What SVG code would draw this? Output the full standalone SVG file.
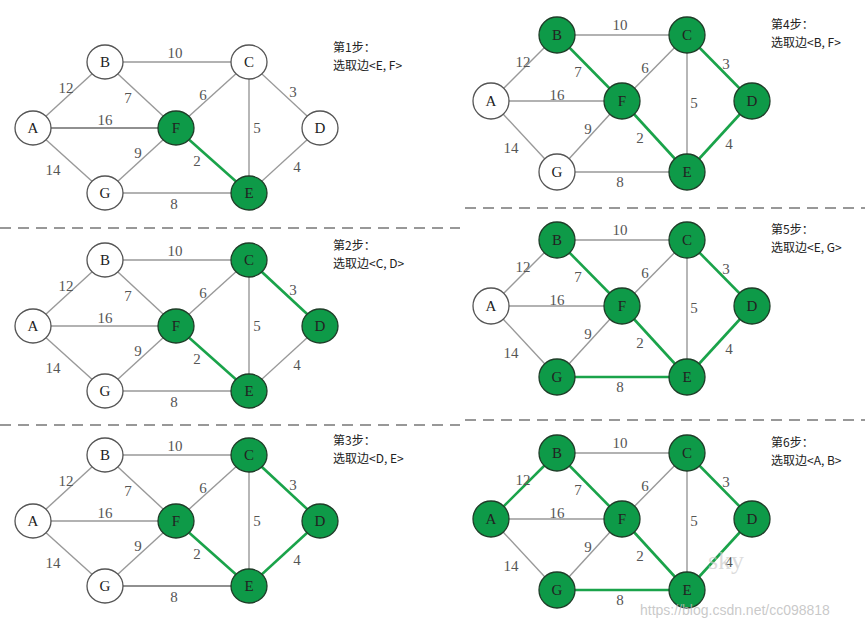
<svg xmlns="http://www.w3.org/2000/svg" xmlns:xlink="http://www.w3.org/1999/xlink" width="865" height="631" viewBox="0 0 865 631">
<style>
.e{stroke:#999;stroke-width:1.4}
.g{stroke:#1aa34a;stroke-width:2.6}
.k{stroke:#222;stroke-width:1.2}
.n ellipse{fill:#fff;stroke:#555;stroke-width:1.3}
.n.on ellipse{fill:#0e9a48;stroke:#1f3d28}
.n text{font-family:"Liberation Serif",serif;font-size:15px;text-anchor:middle;fill:#222}
.w{font-family:"Liberation Serif",serif;font-size:15px;fill:#555;text-anchor:middle}
.s{font-family:"Noto Sans CJK SC","Liberation Serif",sans-serif;font-size:12px;fill:#222}
.d{stroke:#777;stroke-width:1.5;stroke-dasharray:11 7}
</style>
<rect width="865" height="631" fill="#fff"/>
<g id="separators">
<line class="d" x1="0" y1="228" x2="460" y2="228"/>
<line class="d" x1="0" y1="425" x2="460" y2="425"/>
<line class="d" x1="465" y1="208" x2="865" y2="208"/>
<line class="d" x1="465" y1="420" x2="865" y2="420"/>
</g>
<!-- Panel 1 -->
<g id="p1" transform="translate(0,0)">
<g id="p1-edges">
<line class="e" x1="33" y1="128" x2="105" y2="62"/><line class="e" x1="105" y1="62" x2="249" y2="62"/><line class="e" x1="105" y1="62" x2="176" y2="128"/><line class="k" x1="33" y1="128" x2="176" y2="128"/><line class="e" x1="33" y1="128" x2="105" y2="193"/><line class="e" x1="105" y1="193" x2="176" y2="128"/><line class="e" x1="176" y1="128" x2="249" y2="62"/><line class="e" x1="249" y1="62" x2="249" y2="193"/><line class="e" x1="249" y1="62" x2="320" y2="128"/><line class="g" x1="176" y1="128" x2="249" y2="193"/><line class="e" x1="320" y1="128" x2="249" y2="193"/><line class="e" x1="105" y1="193" x2="249" y2="193"/>
<text class="w" x="175" y="58">10</text><text class="w" x="66" y="93">12</text><text class="w" x="128" y="103">7</text><text class="w" x="203" y="100">6</text><text class="w" x="293" y="97">3</text><text class="w" x="105" y="125">16</text><text class="w" x="257" y="133">5</text><text class="w" x="138" y="158">9</text><text class="w" x="197" y="166">2</text><text class="w" x="297" y="172">4</text><text class="w" x="53" y="175">14</text><text class="w" x="174" y="209">8</text>
</g>
<g id="p1-A" class="n"><ellipse cx="33" cy="128" rx="18" ry="17"/><text x="33" y="133">A</text></g>
<g id="p1-B" class="n"><ellipse cx="105" cy="62" rx="18" ry="17"/><text x="105" y="67">B</text></g>
<g id="p1-C" class="n"><ellipse cx="249" cy="62" rx="18" ry="17"/><text x="249" y="67">C</text></g>
<g id="p1-D" class="n"><ellipse cx="320" cy="128" rx="18" ry="17"/><text x="320" y="133">D</text></g>
<g id="p1-F" class="n on"><ellipse cx="176" cy="128" rx="18" ry="17"/><text x="176" y="133">F</text></g>
<g id="p1-E" class="n on"><ellipse cx="249" cy="193" rx="18" ry="17"/><text x="249" y="198">E</text></g>
<g id="p1-G" class="n"><ellipse cx="105" cy="193" rx="18" ry="17"/><text x="105" y="198">G</text></g>
<text class="s" x="333" y="52">第1步：</text><text class="s" x="333" y="70">选取边&lt;E, F&gt;</text>
</g>
<!-- Panel 2 -->
<g id="p2" transform="translate(0,198)">
<g id="p2-edges">
<line class="e" x1="33" y1="128" x2="105" y2="62"/><line class="e" x1="105" y1="62" x2="249" y2="62"/><line class="e" x1="105" y1="62" x2="176" y2="128"/><line class="e" x1="33" y1="128" x2="176" y2="128"/><line class="e" x1="33" y1="128" x2="105" y2="193"/><line class="e" x1="105" y1="193" x2="176" y2="128"/><line class="e" x1="176" y1="128" x2="249" y2="62"/><line class="e" x1="249" y1="62" x2="249" y2="193"/><line class="g" x1="249" y1="62" x2="320" y2="128"/><line class="g" x1="176" y1="128" x2="249" y2="193"/><line class="e" x1="320" y1="128" x2="249" y2="193"/><line class="e" x1="105" y1="193" x2="249" y2="193"/>
<text class="w" x="175" y="58">10</text><text class="w" x="66" y="93">12</text><text class="w" x="128" y="103">7</text><text class="w" x="203" y="100">6</text><text class="w" x="293" y="97">3</text><text class="w" x="105" y="125">16</text><text class="w" x="257" y="133">5</text><text class="w" x="138" y="158">9</text><text class="w" x="197" y="166">2</text><text class="w" x="297" y="172">4</text><text class="w" x="53" y="175">14</text><text class="w" x="174" y="209">8</text>
</g>
<g id="p2-A" class="n"><ellipse cx="33" cy="128" rx="18" ry="17"/><text x="33" y="133">A</text></g>
<g id="p2-B" class="n"><ellipse cx="105" cy="62" rx="18" ry="17"/><text x="105" y="67">B</text></g>
<g id="p2-C" class="n on"><ellipse cx="249" cy="62" rx="18" ry="17"/><text x="249" y="67">C</text></g>
<g id="p2-D" class="n on"><ellipse cx="320" cy="128" rx="18" ry="17"/><text x="320" y="133">D</text></g>
<g id="p2-F" class="n on"><ellipse cx="176" cy="128" rx="18" ry="17"/><text x="176" y="133">F</text></g>
<g id="p2-E" class="n on"><ellipse cx="249" cy="193" rx="18" ry="17"/><text x="249" y="198">E</text></g>
<g id="p2-G" class="n"><ellipse cx="105" cy="193" rx="18" ry="17"/><text x="105" y="198">G</text></g>
<text class="s" x="333" y="52">第2步：</text><text class="s" x="333" y="70">选取边&lt;C, D&gt;</text>
</g>
<!-- Panel 3 -->
<g id="p3" transform="translate(0,393)">
<g id="p3-edges">
<line class="e" x1="33" y1="128" x2="105" y2="62"/><line class="e" x1="105" y1="62" x2="249" y2="62"/><line class="e" x1="105" y1="62" x2="176" y2="128"/><line class="e" x1="33" y1="128" x2="176" y2="128"/><line class="e" x1="33" y1="128" x2="105" y2="193"/><line class="e" x1="105" y1="193" x2="176" y2="128"/><line class="e" x1="176" y1="128" x2="249" y2="62"/><line class="e" x1="249" y1="62" x2="249" y2="193"/><line class="g" x1="249" y1="62" x2="320" y2="128"/><line class="g" x1="176" y1="128" x2="249" y2="193"/><line class="g" x1="320" y1="128" x2="249" y2="193"/><line class="k" x1="105" y1="193" x2="249" y2="193"/>
<text class="w" x="175" y="58">10</text><text class="w" x="66" y="93">12</text><text class="w" x="128" y="103">7</text><text class="w" x="203" y="100">6</text><text class="w" x="293" y="97">3</text><text class="w" x="105" y="125">16</text><text class="w" x="257" y="133">5</text><text class="w" x="138" y="158">9</text><text class="w" x="197" y="166">2</text><text class="w" x="297" y="172">4</text><text class="w" x="53" y="175">14</text><text class="w" x="174" y="209">8</text>
</g>
<g id="p3-A" class="n"><ellipse cx="33" cy="128" rx="18" ry="17"/><text x="33" y="133">A</text></g>
<g id="p3-B" class="n"><ellipse cx="105" cy="62" rx="18" ry="17"/><text x="105" y="67">B</text></g>
<g id="p3-C" class="n on"><ellipse cx="249" cy="62" rx="18" ry="17"/><text x="249" y="67">C</text></g>
<g id="p3-D" class="n on"><ellipse cx="320" cy="128" rx="18" ry="17"/><text x="320" y="133">D</text></g>
<g id="p3-F" class="n on"><ellipse cx="176" cy="128" rx="18" ry="17"/><text x="176" y="133">F</text></g>
<g id="p3-E" class="n on"><ellipse cx="249" cy="193" rx="18" ry="17"/><text x="249" y="198">E</text></g>
<g id="p3-G" class="n"><ellipse cx="105" cy="193" rx="18" ry="17"/><text x="105" y="198">G</text></g>
<text class="s" x="333" y="52">第3步：</text><text class="s" x="333" y="70">选取边&lt;D, E&gt;</text>
</g>
<!-- Panel 4 -->
<g id="p4" transform="translate(0,0)">
<g id="p4-edges">
<line class="e" x1="491" y1="101" x2="557" y2="35"/><line class="e" x1="557" y1="35" x2="687" y2="35"/><line class="g" x1="557" y1="35" x2="622" y2="101"/><line class="e" x1="491" y1="101" x2="622" y2="101"/><line class="e" x1="491" y1="101" x2="557" y2="172"/><line class="e" x1="557" y1="172" x2="622" y2="101"/><line class="e" x1="622" y1="101" x2="687" y2="35"/><line class="e" x1="687" y1="35" x2="687" y2="172"/><line class="g" x1="687" y1="35" x2="752" y2="101"/><line class="g" x1="622" y1="101" x2="687" y2="172"/><line class="g" x1="752" y1="101" x2="687" y2="172"/><line class="e" x1="557" y1="172" x2="687" y2="172"/>
<text class="w" x="620" y="30">10</text><text class="w" x="523" y="67">12</text><text class="w" x="578" y="77">7</text><text class="w" x="645" y="73">6</text><text class="w" x="726" y="69">3</text><text class="w" x="557" y="100">16</text><text class="w" x="694" y="108">5</text><text class="w" x="588" y="134">9</text><text class="w" x="640" y="143">2</text><text class="w" x="729" y="149">4</text><text class="w" x="511" y="153">14</text><text class="w" x="620" y="187">8</text>
</g>
<g id="p4-A" class="n"><ellipse cx="491" cy="101" rx="18" ry="18"/><text x="491" y="106">A</text></g>
<g id="p4-B" class="n on"><ellipse cx="557" cy="35" rx="18" ry="18"/><text x="557" y="40">B</text></g>
<g id="p4-C" class="n on"><ellipse cx="687" cy="35" rx="18" ry="18"/><text x="687" y="40">C</text></g>
<g id="p4-D" class="n on"><ellipse cx="752" cy="101" rx="18" ry="18"/><text x="752" y="106">D</text></g>
<g id="p4-F" class="n on"><ellipse cx="622" cy="101" rx="18" ry="18"/><text x="622" y="106">F</text></g>
<g id="p4-E" class="n on"><ellipse cx="687" cy="172" rx="18" ry="18"/><text x="687" y="177">E</text></g>
<g id="p4-G" class="n"><ellipse cx="557" cy="172" rx="18" ry="18"/><text x="557" y="177">G</text></g>
<text class="s" x="771" y="29">第4步：</text><text class="s" x="771" y="47">选取边&lt;B, F&gt;</text>
</g>
<!-- Panel 5 -->
<g id="p5" transform="translate(0,205)">
<g id="p5-edges">
<line class="e" x1="491" y1="101" x2="557" y2="35"/><line class="e" x1="557" y1="35" x2="687" y2="35"/><line class="g" x1="557" y1="35" x2="622" y2="101"/><line class="e" x1="491" y1="101" x2="622" y2="101"/><line class="e" x1="491" y1="101" x2="557" y2="172"/><line class="e" x1="557" y1="172" x2="622" y2="101"/><line class="e" x1="622" y1="101" x2="687" y2="35"/><line class="e" x1="687" y1="35" x2="687" y2="172"/><line class="g" x1="687" y1="35" x2="752" y2="101"/><line class="g" x1="622" y1="101" x2="687" y2="172"/><line class="g" x1="752" y1="101" x2="687" y2="172"/><line class="g" x1="557" y1="172" x2="687" y2="172"/>
<text class="w" x="620" y="30">10</text><text class="w" x="523" y="67">12</text><text class="w" x="578" y="77">7</text><text class="w" x="645" y="73">6</text><text class="w" x="726" y="69">3</text><text class="w" x="557" y="100">16</text><text class="w" x="694" y="108">5</text><text class="w" x="588" y="134">9</text><text class="w" x="640" y="143">2</text><text class="w" x="729" y="149">4</text><text class="w" x="511" y="153">14</text><text class="w" x="620" y="187">8</text>
</g>
<g id="p5-A" class="n"><ellipse cx="491" cy="101" rx="18" ry="18"/><text x="491" y="106">A</text></g>
<g id="p5-B" class="n on"><ellipse cx="557" cy="35" rx="18" ry="18"/><text x="557" y="40">B</text></g>
<g id="p5-C" class="n on"><ellipse cx="687" cy="35" rx="18" ry="18"/><text x="687" y="40">C</text></g>
<g id="p5-D" class="n on"><ellipse cx="752" cy="101" rx="18" ry="18"/><text x="752" y="106">D</text></g>
<g id="p5-F" class="n on"><ellipse cx="622" cy="101" rx="18" ry="18"/><text x="622" y="106">F</text></g>
<g id="p5-E" class="n on"><ellipse cx="687" cy="172" rx="18" ry="18"/><text x="687" y="177">E</text></g>
<g id="p5-G" class="n on"><ellipse cx="557" cy="172" rx="18" ry="18"/><text x="557" y="177">G</text></g>
<text class="s" x="771" y="29">第5步：</text><text class="s" x="771" y="47">选取边&lt;E, G&gt;</text>
</g>
<!-- Panel 6 -->
<g id="p6" transform="translate(0,418)">
<g id="p6-edges">
<line class="g" x1="491" y1="101" x2="557" y2="35"/><line class="e" x1="557" y1="35" x2="687" y2="35"/><line class="g" x1="557" y1="35" x2="622" y2="101"/><line class="e" x1="491" y1="101" x2="622" y2="101"/><line class="e" x1="491" y1="101" x2="557" y2="172"/><line class="e" x1="557" y1="172" x2="622" y2="101"/><line class="e" x1="622" y1="101" x2="687" y2="35"/><line class="e" x1="687" y1="35" x2="687" y2="172"/><line class="g" x1="687" y1="35" x2="752" y2="101"/><line class="g" x1="622" y1="101" x2="687" y2="172"/><line class="g" x1="752" y1="101" x2="687" y2="172"/><line class="g" x1="557" y1="172" x2="687" y2="172"/>
<text class="w" x="620" y="30">10</text><text class="w" x="523" y="67">12</text><text class="w" x="578" y="77">7</text><text class="w" x="645" y="73">6</text><text class="w" x="726" y="69">3</text><text class="w" x="557" y="100">16</text><text class="w" x="694" y="108">5</text><text class="w" x="588" y="134">9</text><text class="w" x="640" y="143">2</text><text class="w" x="729" y="149">4</text><text class="w" x="511" y="153">14</text><text class="w" x="620" y="187">8</text>
</g>
<g id="p6-A" class="n on"><ellipse cx="491" cy="101" rx="18" ry="18"/><text x="491" y="106">A</text></g>
<g id="p6-B" class="n on"><ellipse cx="557" cy="35" rx="18" ry="18"/><text x="557" y="40">B</text></g>
<g id="p6-C" class="n on"><ellipse cx="687" cy="35" rx="18" ry="18"/><text x="687" y="40">C</text></g>
<g id="p6-D" class="n on"><ellipse cx="752" cy="101" rx="18" ry="18"/><text x="752" y="106">D</text></g>
<g id="p6-F" class="n on"><ellipse cx="622" cy="101" rx="18" ry="18"/><text x="622" y="106">F</text></g>
<g id="p6-E" class="n on"><ellipse cx="687" cy="172" rx="18" ry="18"/><text x="687" y="177">E</text></g>
<g id="p6-G" class="n on"><ellipse cx="557" cy="172" rx="18" ry="18"/><text x="557" y="177">G</text></g>
<text class="s" x="771" y="29">第6步：</text><text class="s" x="771" y="47">选取边&lt;A, B&gt;</text>
<text x="708" y="151" font-family="Liberation Serif,serif" font-size="26" fill="#ccc" fill-opacity="0.7">sky</text>
<text x="640" y="197" font-family="Liberation Sans,sans-serif" font-size="14" fill="#bbb" fill-opacity="0.8">https://blog.csdn.net/cc098818</text>
</g>
</svg>
